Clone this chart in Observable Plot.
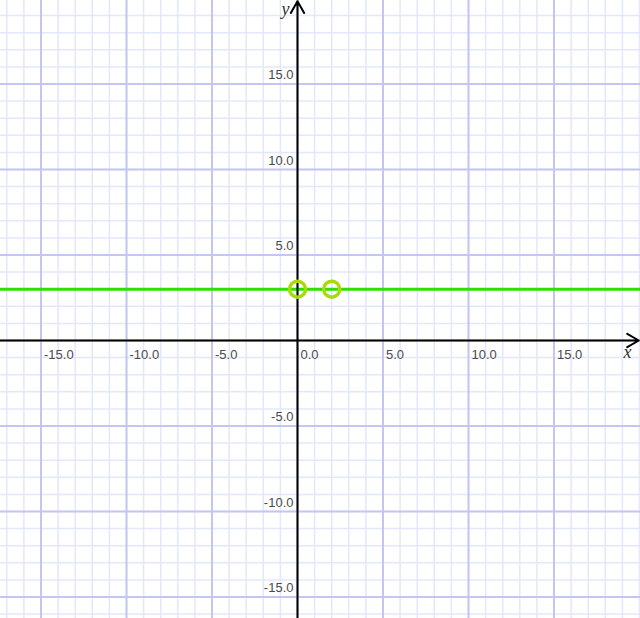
<!DOCTYPE html>
<html>
<head>
<meta charset="utf-8">
<script src="https://cdn.jsdelivr.net/npm/d3@7"></script>
<script src="https://cdn.jsdelivr.net/npm/@observablehq/plot@0.6"></script>
<style>
  html, body { margin: 0; padding: 0; background: #fff; }
  svg { display: block; }
</style>
</head>
<body>
<div id="chart"></div>
<script>
const xMajor = [-15, -10, -5, 0, 5, 10, 15];
const yMajor = [-15, -10, -5, 0, 5, 10, 15];
const xTickLabels = ["-15.0", "-10.0", "-5.0", "0.0", "5.0", "10.0", "15.0"];
const yTickLabels = ["-15.0", "-10.0", "-5.0", "", "5.0", "10.0", "15.0"];
const lineY = 3;
const pointsX = [0, 2];
const pointsY = [3, 3];

const unit = 17.1;
const W = 640, H = 618;
const ox = 297, oy = 340;
const xDomain = [-ox / unit, (W - ox) / unit];
const yDomain = [-(H - oy) / unit, oy / unit];
const minorX = d3.range(Math.ceil(xDomain[0]), Math.floor(xDomain[1]) + 1);
const minorY = d3.range(Math.ceil(yDomain[0]), Math.floor(yDomain[1]) + 1);

const points = pointsX.map((x, i) => ({x, y: pointsY[i]}));
const xLabels = xMajor.map((v, i) => ({v, label: xTickLabels[i]}));
const yLabels = yMajor.map((v, i) => ({v, label: yTickLabels[i]})).filter(d => d.label);

const chart = Plot.plot({
  width: W,
  height: H,
  margin: 0,
  x: {domain: xDomain, axis: null},
  y: {domain: yDomain, axis: null},
  style: {background: "#fff", fontFamily: "Liberation Sans, Arial, sans-serif"},
  marks: [
    Plot.ruleX(minorX, {stroke: "#e3e7fb", strokeWidth: 1.5}),
    Plot.ruleY(minorY, {stroke: "#e3e7fb", strokeWidth: 1.5}),
    Plot.ruleX(xMajor, {stroke: "#c3c6f2", strokeWidth: 2}),
    Plot.ruleY(yMajor, {stroke: "#c3c6f2", strokeWidth: 2}),
    Plot.ruleY([lineY], {stroke: "#2ee000", strokeWidth: 3}),
    Plot.arrow([{x1: xDomain[0], x2: xDomain[1] - 0.1, y1: 0, y2: 0}],
      {x1: "x1", x2: "x2", y1: "y1", y2: "y2", stroke: "#000", strokeWidth: 2, headLength: 10, bend: 0}),
    Plot.arrow([{x1: 0, x2: 0, y1: yDomain[0], y2: yDomain[1] - 0.05}],
      {x1: "x1", x2: "x2", y1: "y1", y2: "y2", stroke: "#000", strokeWidth: 2, headLength: 10, bend: 0}),
    Plot.dot(points, {x: "x", y: "y", r: 8, stroke: "#a8da0c", strokeWidth: 3.5, fill: "none"}),
    Plot.text(xLabels, {x: "v", y: () => 0, text: "label", textAnchor: "start", dx: 3, dy: 14, fill: "#4a4a4a", fontSize: 13}),
    Plot.text(yLabels, {x: () => 0, y: "v", text: "label", textAnchor: "end", dx: -4, dy: -9, fill: "#4a4a4a", fontSize: 13}),
    Plot.text(["x"], {x: () => 19.3, y: () => 0, text: d => d, dy: 12, fontFamily: "Liberation Serif, Times New Roman, serif", fontStyle: "italic", fontSize: 18, fill: "#333"}),
    Plot.text(["y"], {x: () => -0.7, y: () => 19.5, text: d => d, dy: 2, fontFamily: "Liberation Serif, Times New Roman, serif", fontStyle: "italic", fontSize: 18, fill: "#333"})
  ]
});
document.getElementById("chart").appendChild(chart);
</script>
</body>
</html>
